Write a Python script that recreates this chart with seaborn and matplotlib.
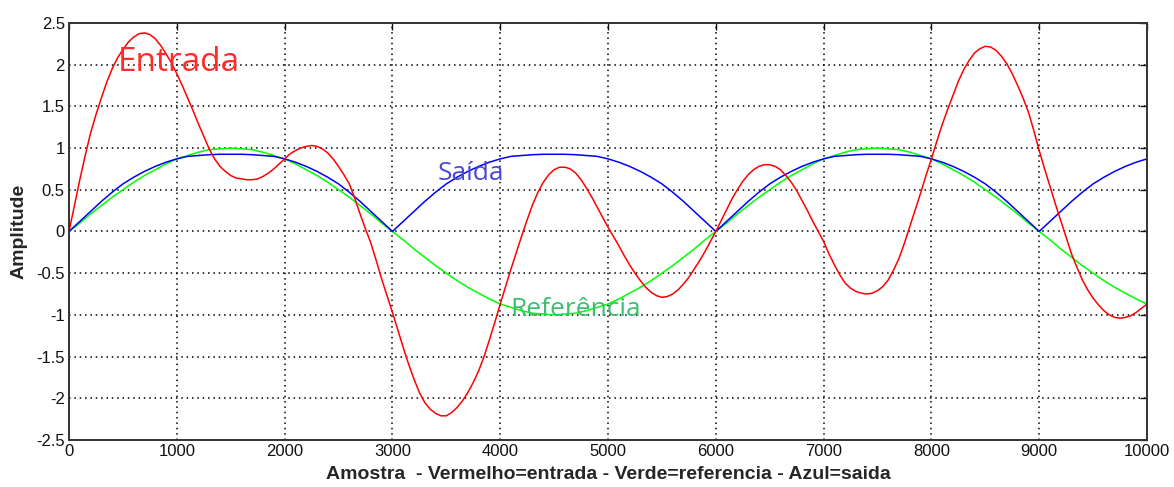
import numpy as np
import matplotlib
matplotlib.use("Agg")
import matplotlib.pyplot as plt
import seaborn as sns

# amostras (passo 100 para referencia/saida, passo 50 para a entrada)
amostra = list(range(0, 10001, 100))
amostra_entrada = list(range(0, 10001, 50))

entrada = [
    0.00, 0.31, 0.62, 0.91, 1.18, 1.40, 1.60, 1.79, 1.95, 2.08,
    2.18, 2.27, 2.33, 2.37, 2.38, 2.36, 2.31, 2.23, 2.13, 2.02,
    1.89, 1.75, 1.60, 1.45, 1.29, 1.14, 0.99, 0.87, 0.78, 0.72,
    0.67, 0.64, 0.63, 0.62, 0.62, 0.63, 0.66, 0.70, 0.75, 0.81,
    0.87, 0.93, 0.97, 1.00, 1.02, 1.03, 1.02, 0.99, 0.94, 0.87,
    0.78, 0.68, 0.57, 0.40, 0.21, 0.03, -0.14, -0.35, -0.57, -0.77,
    -0.97, -1.18, -1.39, -1.59, -1.77, -1.93, -2.05, -2.13, -2.18, -2.21,
    -2.21, -2.17, -2.11, -2.03, -1.93, -1.81, -1.67, -1.50, -1.30, -1.09,
    -0.87, -0.66, -0.45, -0.25, -0.05, 0.14, 0.32, 0.47, 0.59, 0.68,
    0.74, 0.77, 0.77, 0.75, 0.70, 0.62, 0.52, 0.41, 0.29, 0.17,
    0.05, -0.06, -0.17, -0.29, -0.40, -0.50, -0.59, -0.67, -0.73, -0.77,
    -0.79, -0.78, -0.75, -0.70, -0.63, -0.55, -0.45, -0.35, -0.24, -0.12,
    0.00, 0.13, 0.26, 0.39, 0.50, 0.60, 0.68, 0.74, 0.78, 0.80,
    0.80, 0.78, 0.74, 0.67, 0.59, 0.49, 0.37, 0.25, 0.12, 0.00,
    -0.12, -0.27, -0.40, -0.52, -0.62, -0.68, -0.72, -0.74, -0.75, -0.74,
    -0.71, -0.66, -0.58, -0.46, -0.32, -0.14, 0.06, 0.26, 0.46, 0.67,
    0.87, 1.08, 1.28, 1.46, 1.63, 1.80, 1.94, 2.05, 2.14, 2.19,
    2.22, 2.21, 2.17, 2.10, 2.01, 1.89, 1.75, 1.60, 1.43, 1.21,
    0.97, 0.75, 0.54, 0.33, 0.13, -0.07, -0.27, -0.43, -0.58, -0.70,
    -0.80, -0.88, -0.95, -1.00, -1.03, -1.04, -1.03, -1.01, -0.97, -0.92,
    -0.87,
]

referencia = [
    0.00, 0.10, 0.21, 0.31, 0.41, 0.50, 0.59, 0.67, 0.74, 0.81,
    0.87, 0.91, 0.95, 0.98, 0.99, 1.00, 0.99, 0.98, 0.95, 0.91,
    0.87, 0.81, 0.74, 0.67, 0.59, 0.50, 0.41, 0.31, 0.21, 0.10,
    0.00, -0.10, -0.21, -0.31, -0.41, -0.50, -0.59, -0.67, -0.74, -0.81,
    -0.87, -0.91, -0.95, -0.98, -0.99, -1.00, -0.99, -0.98, -0.95, -0.91,
    -0.87, -0.81, -0.74, -0.67, -0.59, -0.50, -0.41, -0.31, -0.21, -0.10,
    0.00, 0.10, 0.21, 0.31, 0.41, 0.50, 0.59, 0.67, 0.74, 0.81,
    0.87, 0.91, 0.95, 0.98, 0.99, 1.00, 0.99, 0.98, 0.95, 0.91,
    0.87, 0.81, 0.74, 0.67, 0.59, 0.50, 0.41, 0.31, 0.21, 0.10,
    0.00, -0.10, -0.21, -0.31, -0.41, -0.50, -0.59, -0.67, -0.74, -0.81,
    -0.87,
]

saida = [
    0.00, 0.12, 0.24, 0.36, 0.47, 0.57, 0.65, 0.72, 0.78, 0.83,
    0.87, 0.90, 0.91, 0.92, 0.925, 0.925, 0.925, 0.92, 0.91, 0.90,
    0.87, 0.83, 0.78, 0.72, 0.65, 0.57, 0.47, 0.36, 0.24, 0.12,
    0.00, 0.12, 0.24, 0.36, 0.47, 0.57, 0.65, 0.72, 0.78, 0.83,
    0.87, 0.90, 0.91, 0.92, 0.925, 0.925, 0.925, 0.92, 0.91, 0.90,
    0.87, 0.83, 0.78, 0.72, 0.65, 0.57, 0.47, 0.36, 0.24, 0.12,
    0.00, 0.12, 0.24, 0.36, 0.47, 0.57, 0.65, 0.72, 0.78, 0.83,
    0.87, 0.90, 0.91, 0.92, 0.925, 0.925, 0.925, 0.92, 0.91, 0.90,
    0.87, 0.83, 0.78, 0.72, 0.65, 0.57, 0.47, 0.36, 0.24, 0.12,
    0.00, 0.12, 0.24, 0.36, 0.47, 0.57, 0.65, 0.72, 0.78, 0.83,
    0.87,
]

xticks = list(range(0, 10001, 1000))
yticks = [-2.5, -2, -1.5, -1, -0.5, 0, 0.5, 1, 1.5, 2, 2.5]
ytick_labels = ["-2.5", "-2", "-1.5", "-1", "-0.5", "0", "0.5", "1", "1.5", "2", "2.5"]

sns.set_style("white")
plt.rcParams['font.family'] = ['Liberation Sans', 'DejaVu Sans']

fig = plt.figure(figsize=(11.74, 4.87), dpi=100)
ax = fig.add_axes([0.0588, 0.0965, 0.9182, 0.8565])

sns.lineplot(x=amostra, y=referencia, color='#00ff00', lw=1.1, ax=ax)
sns.lineplot(x=amostra, y=saida, color='#0000ff', lw=1.1, ax=ax)
sns.lineplot(x=amostra_entrada, y=entrada, color='#ff0000', lw=1.1, ax=ax)

ax.set_xlim(0, 10000)
ax.set_ylim(-2.5, 2.5)
ax.set_xticks(xticks)
ax.set_xticklabels([str(t) for t in xticks])
ax.set_yticks(yticks)
ax.set_yticklabels(ytick_labels)
ax.grid(True, color='black', linestyle=(0, (1, 2.5)), linewidth=1.1)
ax.tick_params(direction='in', length=5, width=1, top=True, right=True,
               labelsize=12, colors='#111111', pad=3)
for sp in ax.spines.values():
    sp.set_color('#333333')
    sp.set_linewidth(1.4)

ax.set_xlabel("Amostra  - Vermelho=entrada - Verde=referencia - Azul=saida",
              fontsize=14, fontweight='bold', labelpad=5)
ax.set_ylabel("Amplitude", fontsize=14, fontweight='bold', labelpad=6)

ax.text(450, 2.02, "Entrada", color='#ff2a2a', fontsize=24, va='center',
        family=['Open Sans', 'DejaVu Sans'])
ax.text(3420, 0.69, "Saída", color='#4848d8', fontsize=19, va='center',
        family=['Open Sans', 'DejaVu Sans'])
ax.text(4090, -0.93, "Referência", color='#3cbf70', fontsize=19, va='center',
        family=['Open Sans', 'DejaVu Sans'])

fig.savefig("out.png", dpi=100)
